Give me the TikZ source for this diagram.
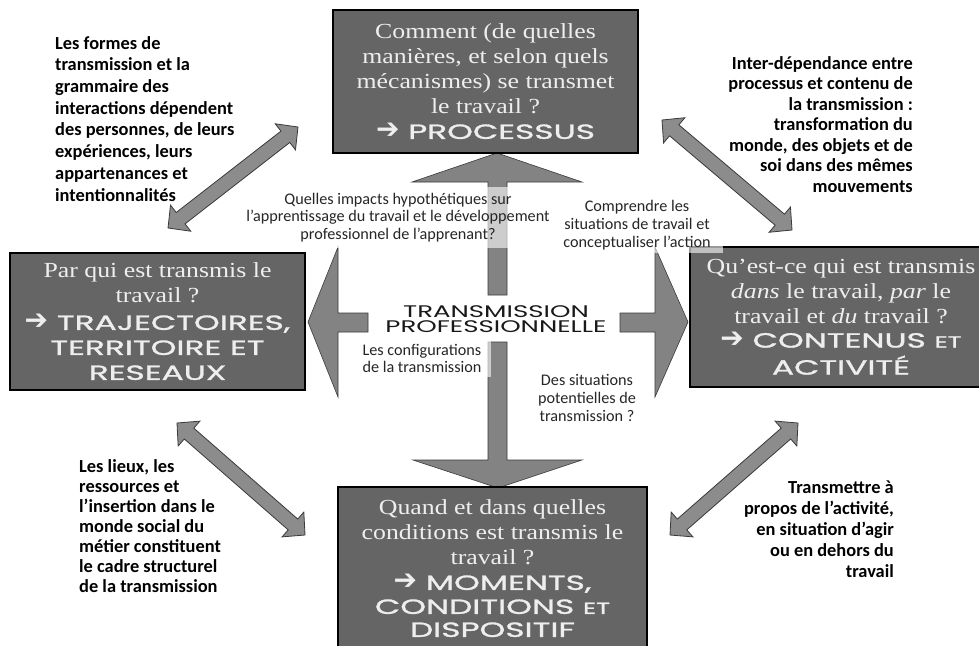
\documentclass[tikz,border=0pt]{standalone}
\usepackage{fontspec}
\setmainfont{Carlito}
\newfontfamily\serf[FakeStretch=1.2]{Liberation Serif}
\newfontfamily\capf[FakeStretch=1.55]{Poppins}
\newfontfamily\capbf[FakeStretch=1.6,FakeBold=1.4]{Poppins}
\newfontfamily\arrf{DejaVu Sans}
\usetikzlibrary{calc}
\definecolor{boxgray}{HTML}{656565}
\definecolor{arrgray}{HTML}{8C8C8C}
\definecolor{crossgray}{HTML}{838383}
\definecolor{edgegray}{HTML}{3A3A3A}
\definecolor{boxtext}{HTML}{EEEEEE}
\newcommand\bigarr{{\arrf\fontsize{28}{20}\selectfont ➔}}
\newcommand\smallet{{\fontsize{16}{15}\selectfont ET}}
\newcommand\hl{16pt}
\newcommand\hw{16.5pt}
\newcommand\sw{7.2pt}
\newcommand\dblarrow[2]{%
  \filldraw[diagarrow] (#1)
  -- ($(#1)!\hl!(#2)!\hw!90:(#2)$)
  -- ($(#1)!\hl!(#2)!\sw!90:(#2)$)
  -- ($(#2)!\hl!(#1)!\sw!-90:(#1)$)
  -- ($(#2)!\hl!(#1)!\hw!-90:(#1)$)
  -- (#2)
  -- ($(#2)!\hl!(#1)!\hw!90:(#1)$)
  -- ($(#2)!\hl!(#1)!\sw!90:(#1)$)
  -- ($(#1)!\hl!(#2)!\sw!-90:(#2)$)
  -- ($(#1)!\hl!(#2)!\hw!-90:(#2)$)
  -- cycle;}
\tikzset{
  qbox/.style={draw=black, line width=2.5pt, fill=boxgray, text=boxtext,
    align=center, inner sep=0pt, font=\serf\fontsize{21.5}{25}\selectfont},
  side/.style={font=\fontsize{18.4}{21.7}\selectfont\bfseries, text=black, inner sep=0pt},
  midtext/.style={font=\fontsize{16.2}{17.8}\selectfont, text=black!85, align=center,
    inner sep=0pt, fill=white, fill opacity=0.6, text opacity=1},
  diagarrow/.style={fill=arrgray, draw=edgegray, line width=0.8pt},
  crossarrow/.style={fill=crossgray, draw=edgegray, line width=0.6pt}
}
\newcommand\capsline[1]{{\capbf\fontsize{20.5}{22}\selectfont #1}}
\begin{document}
\begin{tikzpicture}[x=1pt,y=-1pt]
\useasboundingbox (0,0) rectangle (979,645);
\fill[white] (0,0) rectangle (979,645);

% central cross
\filldraw[crossarrow] (488,295) -- (488,182) -- (412,182) -- (497,153) -- (582,182) -- (507,182) -- (507,295) -- cycle;
\filldraw[crossarrow] (488,342) -- (488,460) -- (413,460) -- (498,488) -- (582,460) -- (507,460) -- (507,342) -- cycle;
\filldraw[crossarrow] (368,313) -- (338,313) -- (338,247) -- (308,322) -- (338,397) -- (338,332) -- (368,332) -- cycle;
\filldraw[crossarrow] (620,313) -- (655,313) -- (655,247) -- (688,322) -- (655,397) -- (655,332) -- (620,332) -- cycle;

% diagonal double arrows
\coordinate (tlA) at (168,228); \coordinate (tlB) at (298,127);
\coordinate (trA) at (662,120); \coordinate (trB) at (792,230);
\coordinate (blA) at (177,423); \coordinate (blB) at (305,535);
\coordinate (brA) at (798,423); \coordinate (brB) at (670,535);
\dblarrow{tlA}{tlB}
\dblarrow{trA}{trB}
\dblarrow{blA}{blB}
\dblarrow{brA}{brB}

% boxes
\node[qbox, minimum width=305, minimum height=143] (proc) at (485.5,81.5)
  {Comment (de quelles\\manières, et selon quels\\mécanismes) se transmet\\le travail ?\\[0pt]
   \capsline{\bigarr\ PROCESSUS}};
\node[qbox, minimum width=295, minimum height=137] (traj) at (157.5,321.5)
  {\fontsize{21.5}{20}\selectfont Par qui est transmis le\\travail ?\\[2pt]
   \capsline{\bigarr\ TRAJECTOIRES,}\\
   \capsline{TERRITOIRE ET}\\
   \capsline{RESEAUX}};
\node[qbox, minimum width=302, minimum height=140] (cont) at (841,317)
  {\fontsize{21.5}{26.5}\selectfont Qu’est-ce qui est transmis\\\textit{dans} le travail, \textit{par} le\\travail et \textit{du} travail ?\\[-1pt]
   \capsline{\bigarr\ CONTENUS \smallet}\\[2pt]
   \capsline{ACTIVITÉ}};
\node[qbox, minimum width=309, minimum height=163] (mom) at (492.5,568.5)
  {\fontsize{21.5}{26.7}\selectfont Quand et dans quelles\\conditions est transmis le\\travail ?\\[0pt]
   \capsline{\bigarr\ MOMENTS,}\\[-1pt]
   \capsline{CONDITIONS \smallet}\\[-2pt]
   \capsline{DISPOSITIF}};

% side texts
\node[side, anchor=north west, align=left] (tltext) at (55,36)
  {Les formes de\\transmission et la\\grammaire des\\interactions dépendent\\des personnes, de leurs\\expériences, leurs\\appartenances et\\intentionnalités};
\node[side, anchor=north east, align=right, font=\fontsize{18.4}{20.5}\selectfont\bfseries] (trtext) at (913,56)
  {Inter-dépendance entre\\processus et contenu de\\la transmission :\\transformation du\\monde, des objets et de\\soi dans des mêmes\\mouvements};
\node[side, anchor=north west, align=left, font=\fontsize{18.4}{20}\selectfont\bfseries] (bltext) at (79,459)
  {Les lieux, les\\ressources et\\l’insertion dans le\\monde social du\\métier constituent\\le cadre structurel\\de la transmission};
\node[side, anchor=north east, align=right, font=\fontsize{18.4}{21}\selectfont\bfseries] (brtext) at (894,481)
  {Transmettre à\\propos de l’activité,\\en situation d’agir\\ou en dehors du\\travail};

% central texts
\node[midtext, minimum width=330, minimum height=61] (impacts) at (398,217.5)
  {Quelles impacts hypothétiques sur\\l’apprentissage du travail et le développement\\professionnel de l’apprenant?};
\node[midtext, minimum width=172, minimum height=56] (compr) at (637,225)
  {Comprendre les\\situations de travail et\\conceptualiser l’action};
\node[midtext, minimum width=138, minimum height=37, align=left] (config) at (422,358.5)
  {Les configurations\\de la transmission};
\node[midtext, fill=none] (sitpot) at (587,398)
  {Des situations\\potentielles de\\transmission ?};
\node[align=center, inner sep=0pt, text=black!90, font=\capf\fontsize{16.8}{15.2}\selectfont] (center) at (496,319.5)
  {TRANSMISSION\\PROFESSIONNELLE};
\end{tikzpicture}
\end{document}
